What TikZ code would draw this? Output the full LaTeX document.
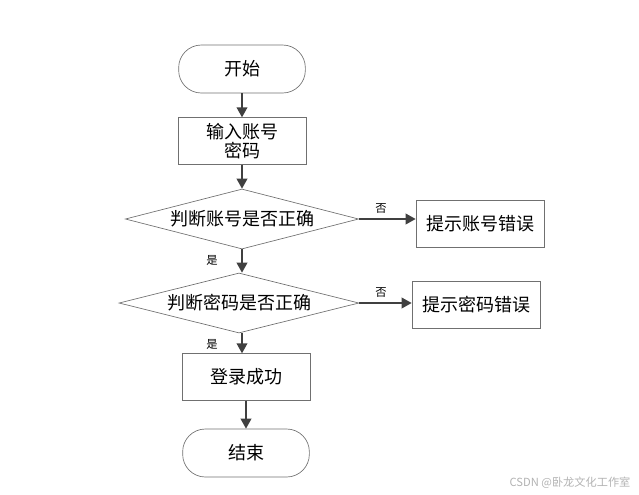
\documentclass[tikz,border=0pt]{standalone}
\usepackage{fontspec}
\setmainfont{Noto Sans CJK SC}
\usetikzlibrary{shapes.geometric,arrows.meta}
\definecolor{linegray}{HTML}{404040}
\definecolor{boxgray}{HTML}{707070}
\begin{document}
\begin{tikzpicture}[x=0.75pt,y=-0.75pt,
   >={Triangle[length=7.5pt,width=8pt]},
   flow/.style={->,draw=linegray,line width=1.2pt},
   term/.style={draw=boxgray,line width=0.5pt,rounded corners=17pt,minimum width=95pt,minimum height=36pt,font=\fontsize{13.5}{16}\selectfont},
   proc/.style={draw=boxgray,line width=0.5pt,minimum width=96pt,minimum height=35pt,align=center,font=\fontsize{13.5}{16}\selectfont},
   test/.style={draw=boxgray,line width=0.5pt,diamond,aspect=3.9,inner sep=0pt,minimum height=45pt,font=\fontsize{13.5}{16}\selectfont},
   lbl/.style={font=\fontsize{8.5}{10}\selectfont}]
   \useasboundingbox (0,0) rectangle (639,494);

   \node[term] (a) at (242,69)  {开始};
   \node[proc] (b) at (242,141) {输入账号\\[-2pt]密码};
   \node[test,minimum width=175pt] (c) at (242,219) {判断账号是否正确};
   \node[proc] (d) at (480,224) {提示账号错误};
   \node[test,minimum width=180pt] (e) at (239,303) {判断密码是否正确};
   \node[proc] (f) at (476,305) {提示密码错误};
   \node[proc] (g) at (246,377) {登录成功};
   \node[term] (h) at (246,453) {结束};

   \node[lbl] (n1) at (381,209) {否};
   \node[lbl] (n2) at (381,293) {否};
   \node[lbl] (y1) at (212,260) {是};
   \node[lbl] (y2) at (212,344) {是};

   \draw[flow] (a) -- (b);
   \draw[flow] (b) -- (c);
   \draw[flow] (c.east) -- (c.east -| d.west);
   \draw[flow] (c.south -| a) -- (e.north -| a);
   \draw[flow] (e.east) -- (e.east -| f.west);
   \draw[flow] (e.south -| a) -- (g.north -| a);
   \draw[flow] (g) -- (h);

   \node[font=\fontsize{8.4}{10}\selectfont,text=gray!60] (w) at (570,483) {CSDN @卧龙文化工作室};
\end{tikzpicture}
\end{document}
